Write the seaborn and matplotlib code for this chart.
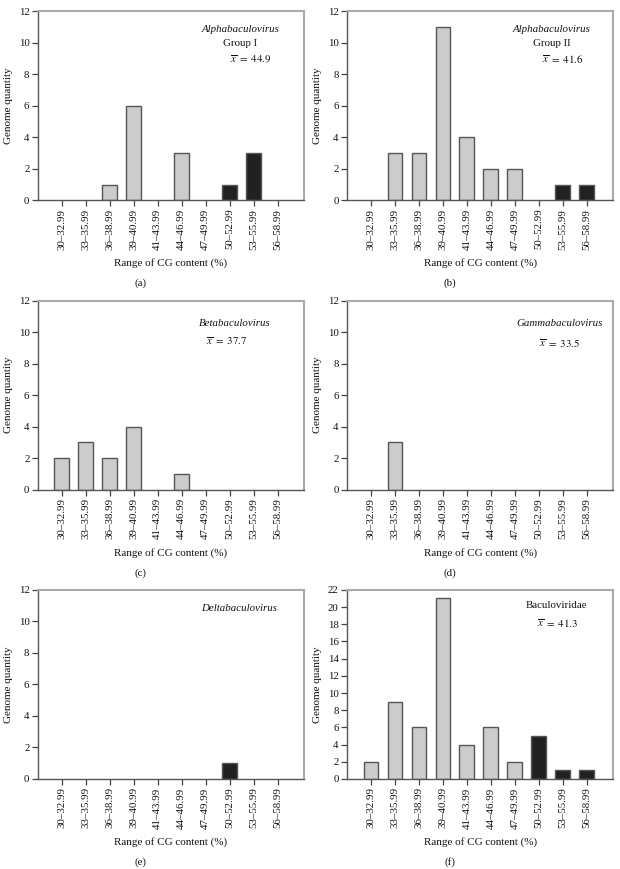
import numpy as np
import pandas as pd
import seaborn as sns
import matplotlib.pyplot as plt

# CG content ranges (x categories)
ranges = ['30–32.99', '33–35.99', '36–38.99', '39–40.99', '41–43.99',
          '44–46.99', '47–49.99', '50–52.99', '53–55.99', '56–58.99']

# genome counts per panel
alpha_group1 = [0, 0, 1, 6, 0, 3, 0, 1, 3, 0]
alpha_group2 = [0, 3, 3, 11, 4, 2, 2, 0, 1, 1]
beta = [2, 3, 2, 4, 0, 1, 0, 0, 0, 0]
gamma = [0, 3, 0, 0, 0, 0, 0, 0, 0, 0]
delta = [0, 0, 0, 0, 0, 0, 0, 1, 0, 0]
baculoviridae = [2, 9, 6, 21, 4, 6, 2, 5, 1, 1]

# ranges from 50% up are drawn dark
high_gc = [r >= '50' for r in ranges]

panel_labels = ['(a)', '(b)', '(c)', '(d)', '(e)', '(f)']
series = [alpha_group1, alpha_group2, beta, gamma, delta, baculoviridae]
y_max = [12, 12, 12, 12, 12, 22]

# annotation text for each panel: (text, italic, x, y) in axes coords
notes = [
    [('Alphabaculovirus', True, 0.76, 0.905), ('Group I', False, 0.76, 0.83),
     (r'$\overline{x}\ =\ 44.9$', False, 0.80, 0.745)],
    [('Alphabaculovirus', True, 0.77, 0.905), ('Group II', False, 0.77, 0.83),
     (r'$\overline{x}\ =\ 41.6$', False, 0.81, 0.75)],
    [('Betabaculovirus', True, 0.74, 0.877), (r'$\overline{x}\ =\ 37.7$', False, 0.71, 0.786)],
    [('Gammabaculovirus', True, 0.80, 0.877), (r'$\overline{x}\ =\ 33.5$', False, 0.80, 0.776)],
    [('Deltabaculovirus', True, 0.755, 0.90)],
    [('Baculoviridae', False, 0.786, 0.92), (r'$\overline{x}\ =\ 41.3$', False, 0.79, 0.825)],
]

sns.set_style('white')
plt.rcParams['font.family'] = ['Liberation Serif', 'DejaVu Serif']
plt.rcParams['mathtext.fontset'] = 'stix'
plt.rcParams['xtick.bottom'] = True
plt.rcParams['ytick.left'] = True

fig, axes = plt.subplots(3, 2, figsize=(6.2, 8.69), dpi=100)
plt.subplots_adjust(left=0.061, right=0.989, top=0.987, bottom=0.1036,
                    wspace=0.162, hspace=0.53)

for ax, counts, ymax, label, note in zip(axes.flat, series, y_max, panel_labels, notes):
    df = pd.DataFrame({'range': ranges, 'count': counts,
                       'group': ['high' if h else 'low' for h in high_gc]})
    sns.barplot(data=df, x='range', y='count', hue='group', order=ranges,
                hue_order=['low', 'high'], palette={'low': '#cccccc', 'high': '#231f20'},
                dodge=False, width=0.62, edgecolor='#555555', linewidth=1.0,
                legend=False, ax=ax)
    # empty classes leave no mark
    for p in ax.patches:
        if p.get_height() == 0:
            p.set_visible(False)
    ax.set_xlim(-1, 10.1)
    ax.set_ylim(0, ymax)
    ax.set_yticks(np.arange(0, ymax + 1, 2))
    ax.tick_params(axis='both', which='major', direction='out', length=4, width=0.9,
                   color='#444444', labelcolor='#111111', labelsize=7.8, pad=2,
                   bottom=True, left=True)
    ax.tick_params(axis='x', labelrotation=90)
    ax.set_xlabel('Range of CG content (%)', fontsize=8, labelpad=6, color='#111111')
    ax.set_ylabel('Genome quantity', fontsize=8, labelpad=4, color='#111111')
    for side in ['left', 'bottom']:
        ax.spines[side].set_color('#555555')
        ax.spines[side].set_linewidth(1.0)
    for side in ['top', 'right']:
        ax.spines[side].set_color('#aaaaaa')
        ax.spines[side].set_linewidth(1.5)
    for text, italic, x, y in note:
        ax.text(x, y, text, transform=ax.transAxes, ha='center', va='center',
                fontsize=7.8, style='italic' if italic else 'normal', color='#111111')
    ax.text(0.385, -0.44, label, transform=ax.transAxes, ha='center', va='center',
            fontsize=7.8, color='#111111')

plt.savefig('out.png', dpi=100)
